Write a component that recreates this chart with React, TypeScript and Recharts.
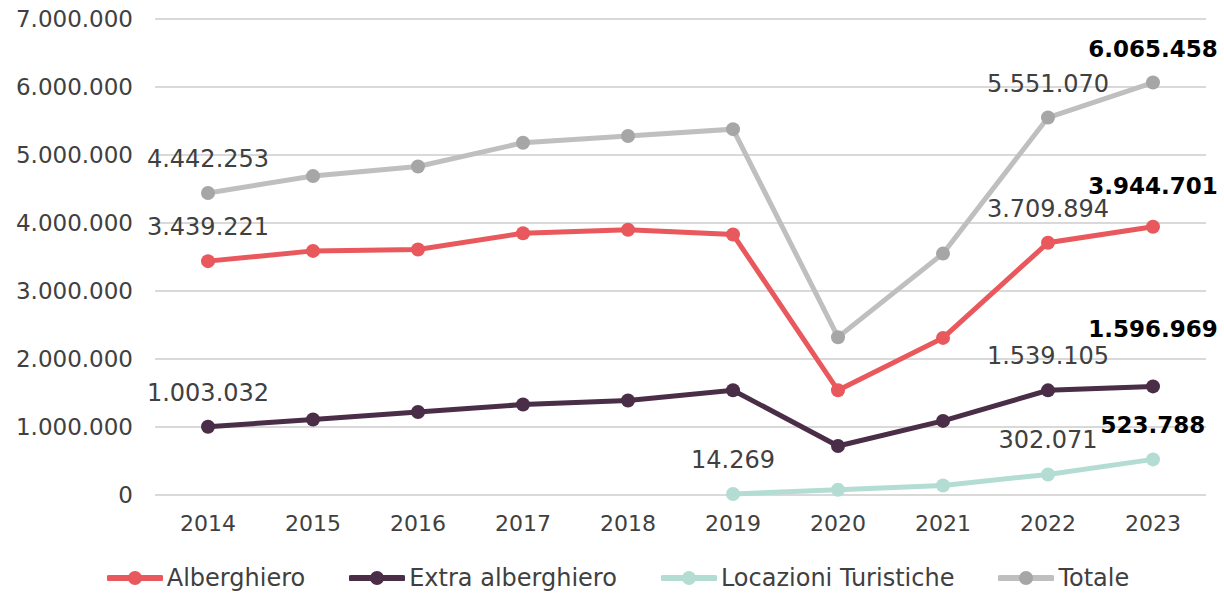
import React from 'react';
import { LineChart, Line, XAxis, YAxis, CartesianGrid, LabelList, Legend } from 'recharts';

const years = ['2014', '2015', '2016', '2017', '2018', '2019', '2020', '2021', '2022', '2023'];
const alberghiero = [3439221, 3590000, 3610000, 3850000, 3900000, 3830000, 1540000, 2310000, 3709894, 3944701];
const extraAlberghiero = [1003032, 1110000, 1220000, 1330000, 1390000, 1540000, 720000, 1090000, 1539105, 1596969];
const locazioni = [null, null, null, null, null, 14269, 78000, 140000, 302071, 523788];
const totale = [4442253, 4690000, 4830000, 5180000, 5280000, 5380000, 2320000, 3550000, 5551070, 6065458];
const yTicks = [0, 1000000, 2000000, 3000000, 4000000, 5000000, 6000000, 7000000];

const FONT = '"DejaVu Sans", sans-serif';

const data = years.map((year, i) => ({
  year,
  alberghiero: alberghiero[i],
  extra: extraAlberghiero[i],
  locazioni: locazioni[i],
  totale: totale[i],
}));

// italian thousands separator
const fmt = (v: number) => String(Math.round(v)).replace(/\B(?=(\d{3})+(?!\d))/g, '.');

const series = [
  { key: 'alberghiero', name: 'Alberghiero', color: '#E8585C', dot: '#E8585C', labels: [0, 8], lift: { 9: 41 } },
  { key: 'extra', name: 'Extra alberghiero', color: '#4A2D46', dot: '#4A2D46', labels: [0, 8], lift: { 9: 57 } },
  { key: 'locazioni', name: 'Locazioni Turistiche', color: '#B3DDD3', dot: '#B3DDD3', labels: [5, 8], lift: {} },
  { key: 'totale', name: 'Totale', color: '#BFBFBF', dot: '#A6A6A6', labels: [0, 8], lift: {} },
];

const makeLabel = (labels: number[], lift: Record<number, number>) => (props: any) => {
  const { x, y, value, index } = props;
  if (value == null) return null;
  const last = index === years.length - 1;
  if (!last && !labels.includes(index)) return null;
  const up = lift[index] ?? 34;
  return (
    <text
      x={x}
      y={y - up}
      textAnchor="middle"
      dominantBaseline="central"
      fontFamily={FONT}
      fontSize={last ? 23 : 24}
      fontWeight={last ? 700 : 400}
      fill={last ? '#000000' : '#404040'}
    >
      {fmt(value)}
    </text>
  );
};

const LegendContent = () => (
  <div
    style={{
      display: 'flex',
      justifyContent: 'center',
      gap: 44,
      height: 30,
      alignItems: 'center',
      fontFamily: FONT,
      fontSize: 24,
      color: '#404040',
      paddingLeft: 30,
    }}
  >
    {series.map((s) => (
      <div key={s.key} style={{ display: 'flex', alignItems: 'center', gap: 4 }}>
        <svg width={56} height={16}>
          <line x1={2} y1={8} x2={54} y2={8} stroke={s.color} strokeWidth={6} strokeLinecap="round" />
          <circle cx={28} cy={8} r={7} fill={s.dot} />
        </svg>
        <span>{s.name}</span>
      </div>
    ))}
  </div>
);

export default function App() {
  return (
    <div style={{ width: 1224, height: 593, background: '#ffffff' }}>
      <style>{'body{margin:0}'}</style>
      <LineChart width={1224} height={593} data={data} margin={{ top: 19, right: 18, bottom: 0, left: 0 }}>
        <CartesianGrid vertical={false} stroke="#D9D9D9" strokeWidth={2} />
        <XAxis
          dataKey="year"
          axisLine={false}
          tickLine={false}
          tickSize={0}
          tickMargin={20}
          height={68}
          padding={{ left: 53, right: 53 }}
          tick={{ fontFamily: FONT, fontSize: 22, fill: '#404040' }}
        />
        <YAxis
          domain={[0, 7000000]}
          ticks={yTicks}
          axisLine={false}
          tickLine={false}
          tickSize={0}
          tickMargin={22}
          width={155}
          tickFormatter={fmt}
          tick={{ fontFamily: FONT, fontSize: 23, fill: '#404040' }}
        />
        <Legend verticalAlign="bottom" content={() => <LegendContent />} />
        {series.map((s) => (
          <Line
            key={s.key}
            dataKey={s.key}
            name={s.name}
            stroke={s.color}
            strokeWidth={5}
            dot={{ r: 7, fill: s.dot, stroke: 'none' }}
            activeDot={false}
            isAnimationActive={false}
          >
            <LabelList dataKey={s.key} content={makeLabel(s.labels, s.lift)} />
          </Line>
        ))}
      </LineChart>
    </div>
  );
}
